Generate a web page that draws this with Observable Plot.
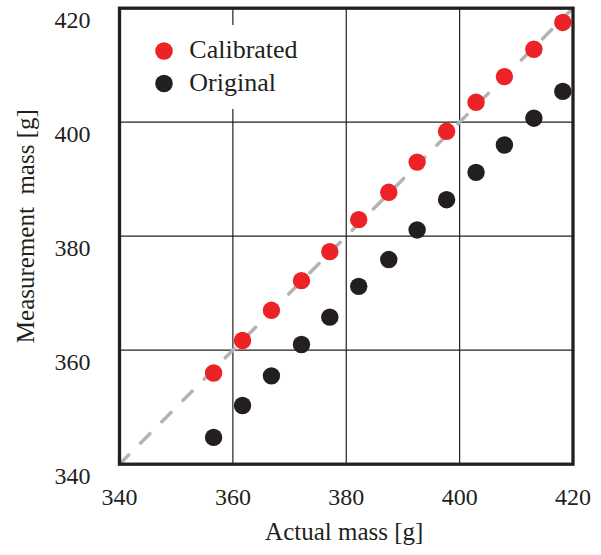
<!DOCTYPE html>
<html>
<head>
<meta charset="utf-8">
<script src="https://cdn.jsdelivr.net/npm/d3@7"></script>
<script src="https://cdn.jsdelivr.net/npm/@observablehq/plot@0.6"></script>
<style>
  html, body { margin: 0; padding: 0; background: white; }
  #wrap { position: relative; width: 601px; height: 555px; }
  #legend { position: absolute; left: 138px; top: 25px; }
</style>
</head>
<body>
<div id="wrap"></div>
<script>
// Data
const actualMass = [356.6, 361.7, 366.8, 372.1, 377.1, 382.2, 387.5, 392.5, 397.7, 402.9, 407.9, 413.1, 418.2];
const calibrated = [356.0, 361.7, 367.0, 372.2, 377.3, 382.9, 387.7, 393.0, 398.4, 403.5, 408.0, 412.8, 417.5];
const original   = [344.7, 350.3, 355.5, 361.0, 365.8, 371.2, 375.9, 381.1, 386.4, 391.2, 396.0, 400.7, 405.4];
const xTicks = [340, 360, 380, 400, 420];
const yTicks = [340, 360, 380, 400, 420];
const identityLine = [340, 420];
const seriesNames = ["Calibrated", "Original"];
const seriesColors = ["#ec2227", "#231f20"];
const xLabel = "Actual mass [g]";
const yLabel = "Measurement\u00a0 mass [g]";

const rows = [];
actualMass.forEach((a, i) => {
  rows.push({actual: a, measured: original[i], series: "Original"});
});
actualMass.forEach((a, i) => {
  rows.push({actual: a, measured: calibrated[i], series: "Calibrated"});
});

const ink = "#231f20";
const chart = Plot.plot({
  width: 601,
  height: 555,
  marginLeft: 119,
  marginRight: 28.5,
  marginTop: 7.7,
  marginBottom: 91.3,
  x: {domain: [340, 420]},
  y: {domain: [340, 420]},
  color: {domain: seriesNames, range: seriesColors},
  style: {fontFamily: "'Liberation Serif', 'Times New Roman', serif", fontSize: "24px", background: "white", color: ink},
  marks: [
    Plot.gridX(xTicks, {stroke: ink, strokeOpacity: 1, strokeWidth: 1.2}),
    Plot.gridY(yTicks, {stroke: ink, strokeOpacity: 1, strokeWidth: 1.2}),
    Plot.line(identityLine, {x: d => d, y: d => d, stroke: "#b3b3b3", strokeWidth: 3.5, strokeDasharray: "13,17"}),
    Plot.dot(rows, {x: "actual", y: "measured", fill: "series", r: 8.7, stroke: "none"}),
    Plot.frame({stroke: ink, strokeWidth: 3.3}),
    Plot.axisX(xTicks, {tickSize: 0, tickPadding: 24, label: null, fill: ink}),
    Plot.axisY(yTicks, {tickSize: 0, tickPadding: 29, dy: 12, label: null, fill: ink}),
    Plot.text([xLabel], {frameAnchor: "bottom", textAnchor: "middle", dy: 76, dx: -2, fontSize: 25, fill: ink}),
    Plot.text([yLabel], {frameAnchor: "left", textAnchor: "middle", rotate: -90, dx: -94, dy: -10, fontSize: 25, fill: ink})
  ]
});
const wrap = document.getElementById("wrap");
wrap.appendChild(chart);

// Legend overlay (white box inside the plot, top-left)
const legend = d3.create("svg")
  .attr("id", "legend")
  .attr("width", 185)
  .attr("height", 84)
  .style("font-family", "'Liberation Serif', 'Times New Roman', serif");
legend.append("rect").attr("width", 185).attr("height", 84).attr("fill", "white");
seriesNames.forEach((name, i) => {
  const g = legend.append("g").attr("transform", `translate(0,${i * 32.5})`);
  g.append("circle").attr("cx", 26).attr("cy", 26).attr("r", 8.8).attr("fill", seriesColors[i]);
  g.append("text").attr("x", 51.3).attr("y", 33.3).attr("font-size", 26).attr("fill", ink).text(name);
});
wrap.appendChild(legend.node());
</script>
</body>
</html>
